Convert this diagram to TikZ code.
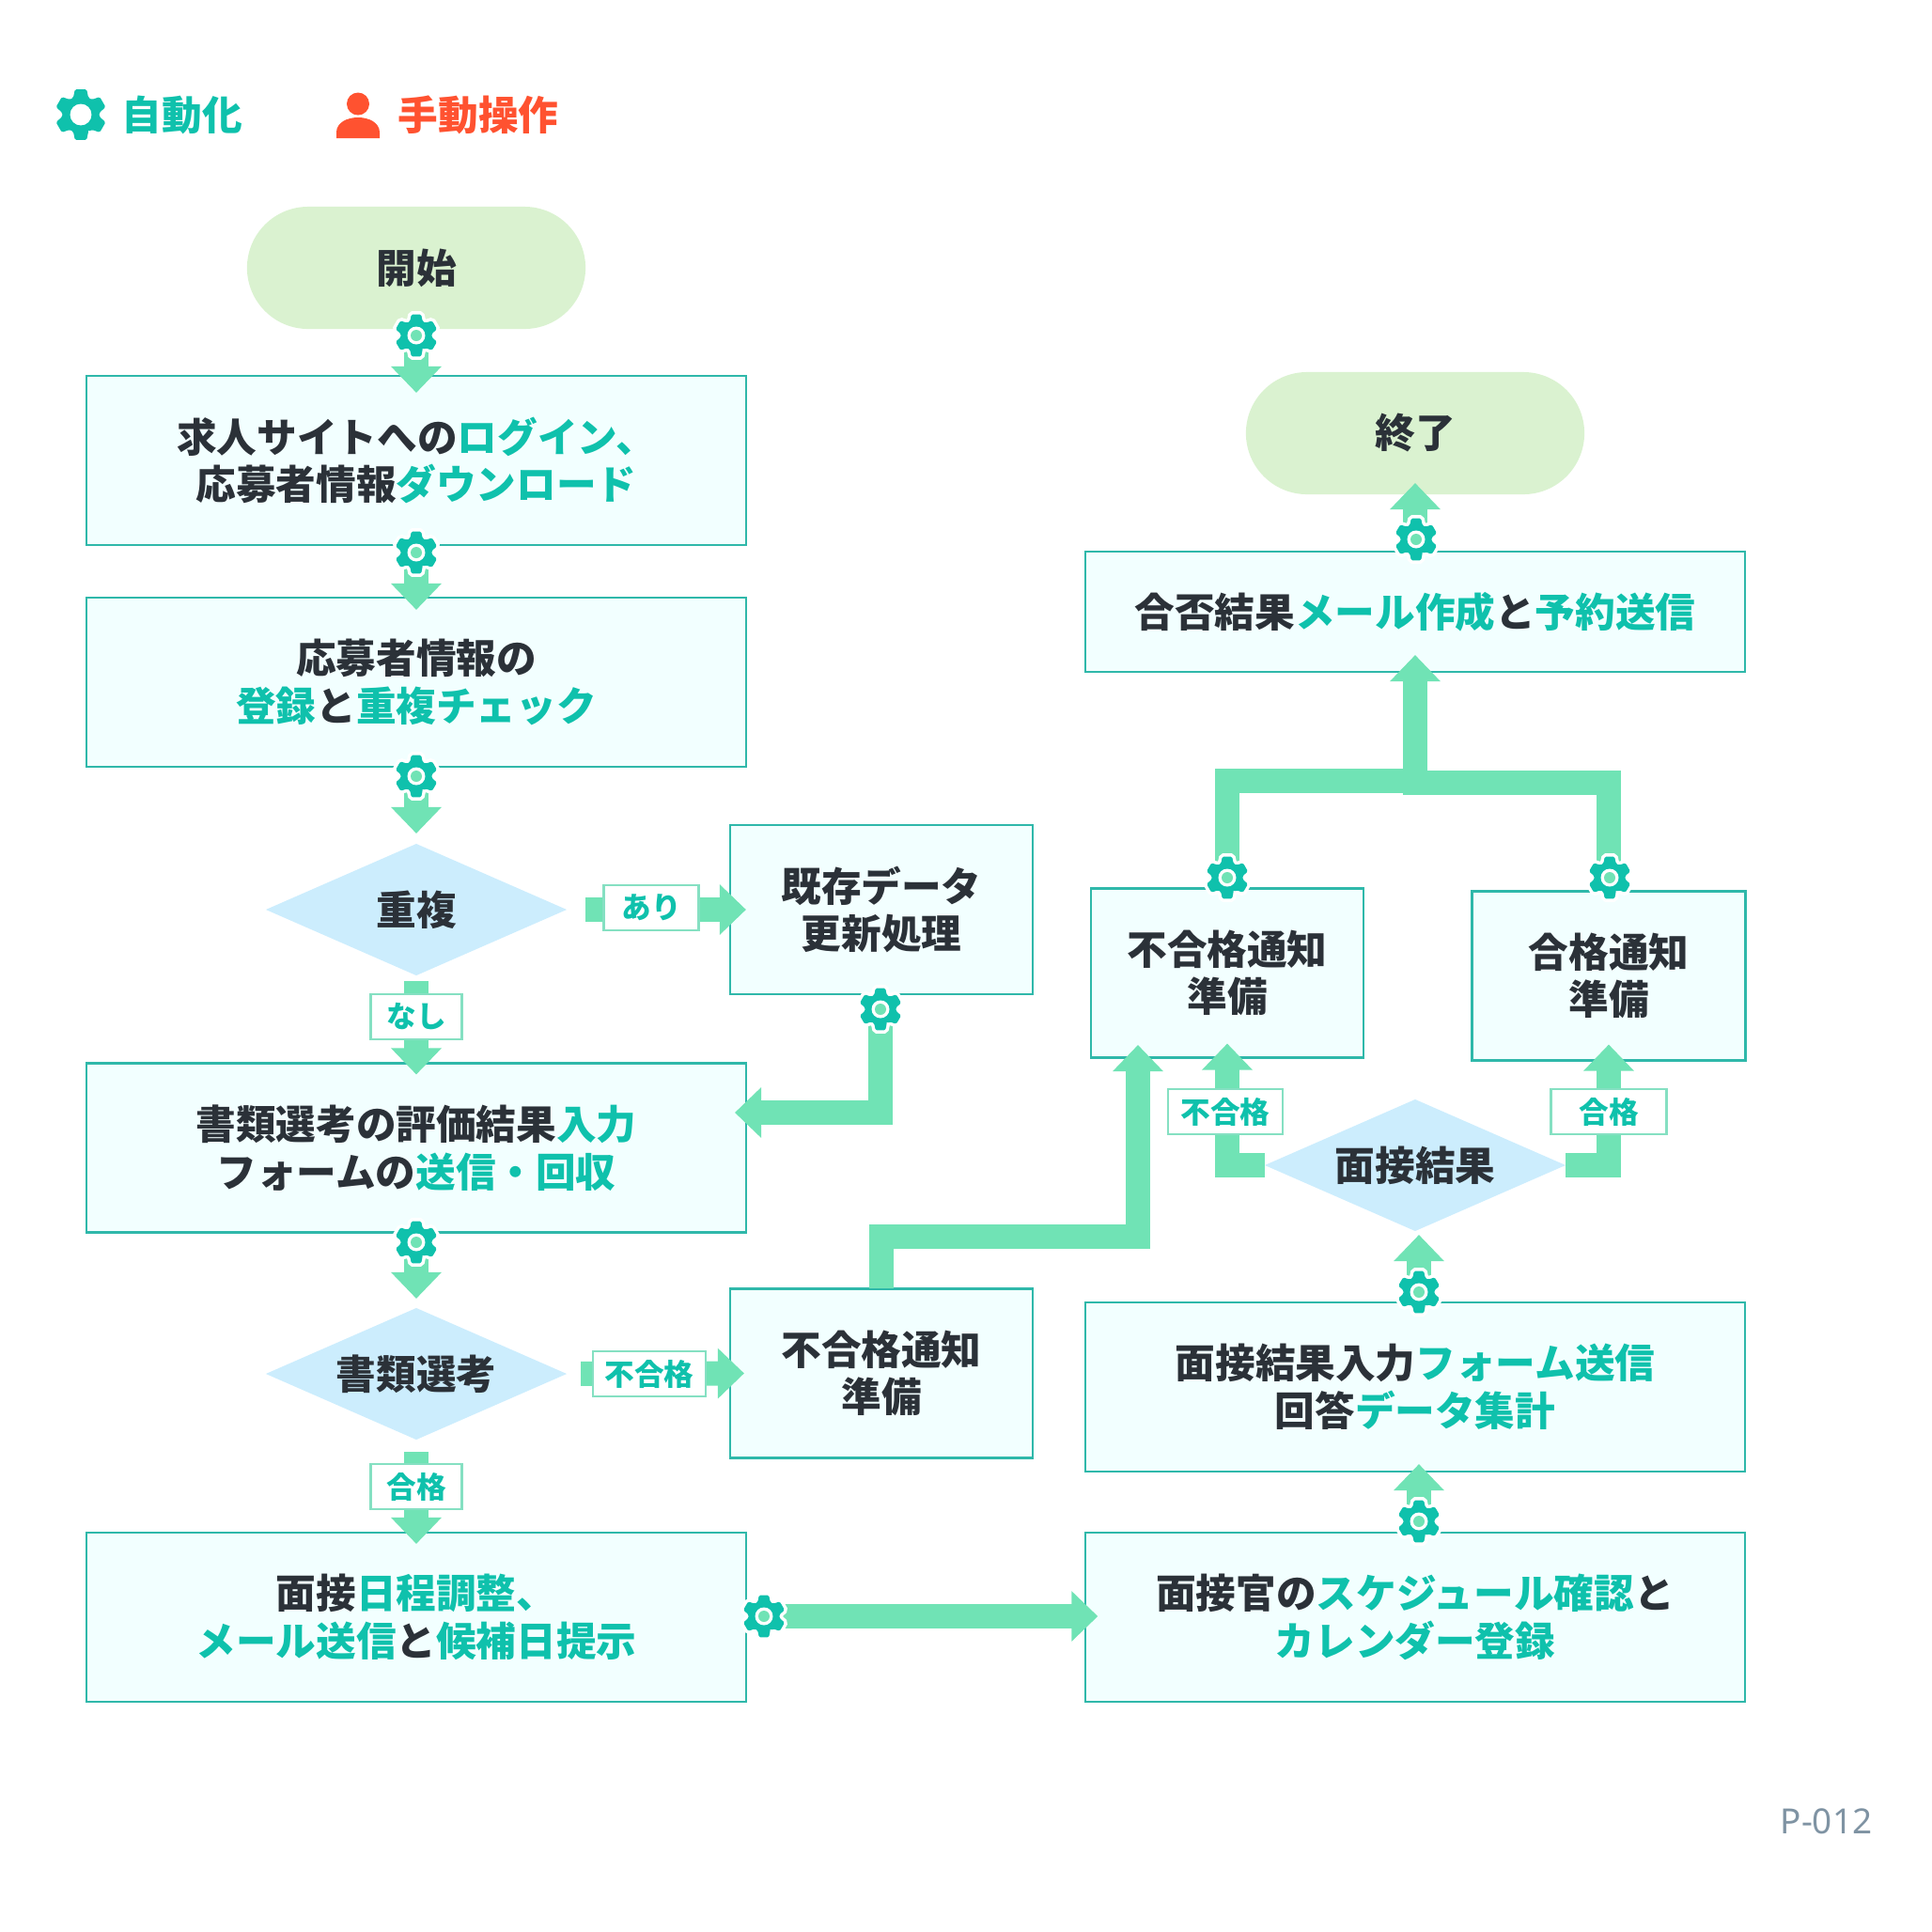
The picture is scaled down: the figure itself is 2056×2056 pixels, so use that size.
\documentclass[tikz,border=0pt]{standalone}
\usepackage{fontspec}
\setmainfont{Noto Sans CJK JP}
\setsansfont{Noto Sans}
\usetikzlibrary{shapes.geometric}
\usetikzlibrary{arrows.meta}
\definecolor{teal1}{HTML}{0FC1AC}
\definecolor{flowgreen}{HTML}{70E3B5}
\definecolor{boxline}{HTML}{2FB8AA}
\definecolor{boxfill}{HTML}{F2FFFF}
\definecolor{pillfill}{HTML}{DAF2D0}
\definecolor{diafill}{HTML}{CCEDFD}
\definecolor{tagline}{HTML}{85E0C2}
\definecolor{ink}{HTML}{2B3138}
\definecolor{manual}{HTML}{FF5230}
\definecolor{pagegrey}{HTML}{7F93A3}
\newcommand{\hl}[1]{\textcolor{teal1}{#1}}
\newcommand{\gearicon}[3][1]{%
  \node[gnode] (#2) at (#3) {};
  \begin{scope}[shift={(#3)}, scale=#1]
    \path[rounded corners=0.15mm, fill=teal1, preaction={draw=white, line width=0.7mm}] (66:16.5)
      \foreach \a in {90,150,210,270,330,390} {
        -- (\a-13:23) -- (\a+13:23) -- (\a+24:16.5) -- (\a+36:16.5)
      } -- cycle;
    \fill[white] (0,0) circle (9.5);
    \fill[flowgreen] (0,0) circle (6);
  \end{scope}
}
\tikzset{>={Triangle[length=2.8mm,width=5.2mm]}}

\begin{document}
\begin{tikzpicture}[x=0.01cm, y=-0.01cm, font=\fontsize{12.13}{14.4}\selectfont\bfseries, text=ink]
  \tikzstyle{gnode} = [inner sep=0pt, minimum size=0pt, outer sep=0pt]
  \tikzstyle{pbox} = [draw=boxline, line width=0.22mm, fill=boxfill, inner sep=0pt, outer sep=0pt, align=center, minimum height=1.8cm]
  \tikzstyle{widebox} = [pbox, minimum width=7.01cm]
  \tikzstyle{midbox} = [pbox, minimum width=3.22cm]
  \tikzstyle{pill} = [fill=pillfill, rounded corners=0.65cm, inner sep=0pt, outer sep=0pt, minimum width=3.6cm, minimum height=1.3cm]
  \tikzstyle{dia} = [diamond, fill=diafill, aspect=2.29, inner sep=0pt, outer sep=0pt, minimum width=3.2cm, minimum height=1.4cm]
  \tikzstyle{tag} = [draw=tagline, line width=0.22mm, fill=white, text=teal1, font=\fontsize{9}{9}\selectfont\bfseries, inner sep=0pt, minimum height=0.48cm]
  \tikzstyle{flow} = [->, draw=flowgreen, line width=2.6mm]
  \tikzstyle{flowbar} = [draw=flowgreen, line width=2.6mm]
  \useasboundingbox (0,0) rectangle (2056,2056);

  % legend
  \gearicon[1.2]{leggear}{86,122}
  \fill[white] (leggear) circle (11);
  \node[text=teal1, anchor=west, inner sep=0pt] (legauto) at (129,122) {自動化};
  \node[gnode] (leghead) at (381,110.5) {};
  \fill[manual] (leghead) circle (12);
  \fill[manual] (358,147) -- (358,141) .. controls (358,130) and (370,125) .. (381,125) .. controls (392,125) and (404,130) .. (404,141) -- (404,147) -- cycle;
  \node[text=manual, anchor=west, inner sep=0pt] (legman) at (423,122) {手動操作};

  % left column
  \node[pill] (start) at (443,285) {開始};
  \node[widebox] (login) at (443,490) {求人サイトへの\hl{ログイン、}\\応募者情報\hl{ダウンロード}};
  \node[widebox] (entry) at (443,726) {応募者情報の\\\hl{登録}と\hl{重複チェック}};
  \node[dia] (dup) at (443,968) {重複};
  \node[widebox] (eval) at (443,1221.5) {書類選考の評価結果\hl{入力}\\フォームの\hl{送信・回収}};
  \node[dia] (docs) at (443,1462) {書類選考};
  \node[widebox] (sched) at (443,1721) {面接\hl{日程調整、}\\\hl{メール送信}と\hl{候補日提示}};

  % middle column
  \node[midbox] (update) at (938,968) {既存データ\\更新処理};
  \node[midbox] (ngdoc) at (938,1461.5) {不合格通知\\準備};

  % right column
  \node[pill] (finish) at (1506,461) {終了};
  \node[widebox, minimum height=1.28cm] (mail) at (1506,651) {合否結果\hl{メール作成}と\hl{予約送信}};
  \node[pbox, minimum width=2.9cm] (ngnote) at (1306,1035.5) {不合格通知\\準備};
  \node[pbox, minimum width=2.91cm] (oknote) at (1712,1038.5) {合格通知\\準備};
  \node[dia] (result) at (1506,1240) {面接結果};
  \node[widebox] (form) at (1506,1476) {面接結果入力\hl{フォーム送信}\\回答\hl{データ集計}};
  \node[widebox] (cal) at (1506,1721) {面接官の\hl{スケジュール確認}と\\\hl{カレンダー登録}};

  % gears sit on top of the flows, so names come first
  \node[gnode] (g1) at (443,357) {};
  \node[gnode] (g2) at (443,588) {};
  \node[gnode] (g3) at (443,826) {};
  \node[gnode] (g4) at (937,1074) {};
  \node[gnode] (g5) at (443,1322) {};
  \node[gnode] (g6) at (813,1720) {};
  \node[gnode] (g7) at (1510,1619) {};
  \node[gnode] (g8) at (1510,1375) {};
  \node[gnode] (g9) at (1306,934) {};
  \node[gnode] (g10) at (1713,934) {};
  \node[gnode] (g11) at (1507,574) {};
  \coordinate (evalin) at (782,1184);
  \coordinate (bend) at (938,1316);
  \coordinate (ngin) at (1211,1112);
  \coordinate (joinl) at (1506,831);
  \coordinate (joinr) at (1493,833);
  \coordinate (joinup) at (1506,832);

  \draw[flow, shorten >=-1.8mm] (g1) -- (login.north);
  \draw[flow, shorten >=-1.3mm] (g2) -- (entry.north);
  \draw[flow, shorten >=1.1mm] (g3) -- (dup.north);
  \draw[flow, shorten <=2mm, shorten >=-1.7mm] (dup.east) -- (update.west);
  \draw[flow, shorten <=0.6mm, shorten >=-1.2mm] (dup.south) -- (eval.north);
  \draw[flow] (g4) |- (evalin);
  \draw[flow, shorten >=1mm] (g5) -- (docs.north);
  \draw[flow, shorten <=1.5mm, shorten >=-1.5mm] (docs.east) -- (ngdoc.west);
  \draw[flow, shorten <=1.3mm, shorten >=-1.2mm] (docs.south) -- (sched.north);
  \draw[flow, shorten >=-1.3mm] (g6) -- (g6 -| cal.west);
  \draw[flow, shorten >=-0.8mm] (g7) -- (g7 |- form.south);
  \draw[flow, shorten >=0.4mm] (g8) -- (g8 |- result.south);
  \draw[flow] (ngdoc.north) -- (bend) -| (ngin);
  \draw[flow, shorten >=-1.5mm] (result.west) -| (ngnote.south);
  \draw[flow, shorten >=-1.7mm] (result.east) -| (oknote.south);
  \draw[flowbar] (g9) |- (joinl);
  \draw[flowbar] (g10 -| oknote.south) |- (joinr);
  \draw[flow, shorten >=-1.8mm] (joinup) -- (mail.south);
  \draw[flow, shorten >=-1.2mm] (g11 -| finish.south) -- (finish.south);

  % branch tags
  \node[tag, minimum width=1.01cm] (tagyes) at (693,966) {あり};
  \node[tag, minimum width=0.97cm] (tagno) at (443,1082) {なし};
  \node[tag, minimum width=1.2cm] (tagng) at (691,1462) {不合格};
  \node[tag, minimum width=0.97cm] (tagok) at (443,1582) {合格};
  \node[tag, minimum width=1.22cm] (tagng2) at (1304,1183) {不合格};
  \node[tag, minimum width=1.23cm] (tagok2) at (1712,1183) {合格};

  \foreach \g in {g1,g2,g3,g4,g5,g6,g7,g8,g9,g10,g11} {
    \gearicon{\g x}{\g}
  }

  \node[text=pagegrey, anchor=east, inner sep=0pt, font=\fontsize{10.5}{12}\sffamily] (pageno) at (1993,1938) {P-012};
\end{tikzpicture}
\end{document}
